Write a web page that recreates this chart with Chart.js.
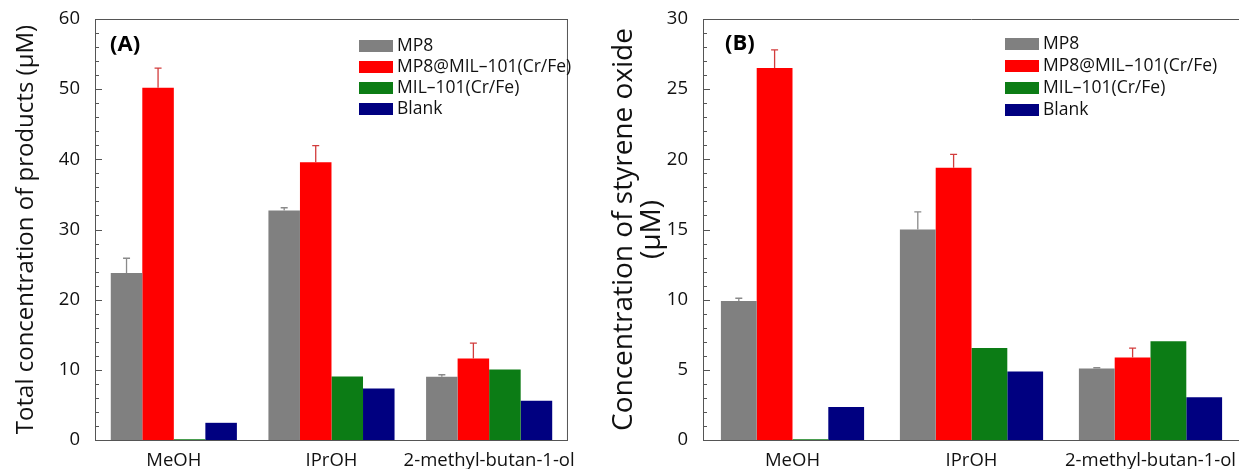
<!DOCTYPE html>
<html>
<head>
<meta charset="utf-8">
<script src="https://cdn.jsdelivr.net/npm/chart.js@4.4.0/dist/chart.umd.min.js"></script>
<style>
  html, body { margin: 0; padding: 0; background: #fff; overflow: hidden; width: 1239px; height: 469px; }
  .box { position: absolute; top: 0; height: 469px; }
</style>
</head>
<body>
<div class="box" style="left:0;width:578px"><canvas id="chartA"></canvas></div>
<div class="box" style="left:600px;width:645px"><canvas id="chartB"></canvas></div>
<script>
// categories and series names
var solvents = ["MeOH", "IPrOH", "2-methyl-butan-1-ol"];
var seriesNames = ["MP8", "MP8@MIL\u2013101(Cr/Fe)", "MIL\u2013101(Cr/Fe)", "Blank"];
var seriesColors = ["#808080", "#ff0000", "#0c7c15", "#000080"];
var errorColors = ["#8a8a8a", "#d23c3c", null, null];

// (A) total concentration of products (uM)
var totalMP8 = [23.8, 32.7, 9.0];
var totalMP8MIL = [50.2, 39.6, 11.6];
var totalMIL = [0.1, 9.05, 10.05];
var totalBlank = [2.45, 7.35, 5.6];
var totalErrMP8 = [2.1, 0.4, 0.3];
var totalErrMP8MIL = [2.8, 2.35, 2.2];

// (B) concentration of styrene oxide (uM)
var styMP8 = [9.9, 15.0, 5.1];
var styMP8MIL = [26.5, 19.4, 5.88];
var styMIL = [0.05, 6.55, 7.03];
var styBlank = [2.35, 4.88, 3.05];
var styErrMP8 = [0.2, 1.25, 0.05];
var styErrMP8MIL = [1.3, 0.95, 0.67];

var yTicksA = [0, 10, 20, 30, 40, 50, 60];
var yTicksB = [0, 5, 10, 15, 20, 25, 30];

var fontFam = "'Open Sans', 'Noto Sans', sans-serif";

function makeDatasets(values, errors) {
  return values.map(function(v, i) {
    return {
      label: seriesNames[i],
      data: v,
      errors: errors[i] || null,
      backgroundColor: seriesColors[i],
      borderWidth: 0,
      categoryPercentage: 0.8,
      barPercentage: 1.0
    };
  });
}

// error bars (upper half only), inner tick marks, frame and legend
var decorPlugin = {
  id: 'decor',
  afterDatasetsDraw: function(chart, args, opts) {
    var ctx = chart.ctx;
    var ys = chart.scales.y;
    var area = chart.chartArea;
    ctx.save();
    // error bars
    chart.data.datasets.forEach(function(ds, di) {
      if (!ds.errors) return;
      var meta = chart.getDatasetMeta(di);
      meta.data.forEach(function(bar, j) {
        var top = ys.getPixelForValue(ds.data[j] + ds.errors[j]);
        ctx.strokeStyle = errorColors[di];
        ctx.lineWidth = 1.3;
        ctx.beginPath();
        ctx.moveTo(bar.x, bar.y);
        ctx.lineTo(bar.x, top);
        ctx.moveTo(bar.x - 3.5, top);
        ctx.lineTo(bar.x + 3.5, top);
        ctx.stroke();
      });
    });
    // frame
    ctx.strokeStyle = '#555';
    ctx.lineWidth = 1;
    ctx.beginPath();
    ctx.moveTo(area.left, area.top + 0.5);
    ctx.lineTo(area.right, area.top + 0.5);
    ctx.moveTo(area.right - 0.5, area.top);
    ctx.lineTo(area.right - 0.5, area.bottom);
    ctx.stroke();
    // inner ticks on y axis
    var max = ys.max;
    for (var v = 0; v <= max + 1e-9; v += opts.minor) {
      var py = Math.round(ys.getPixelForValue(v)) + 0.5;
      var major = Math.abs(v / opts.major - Math.round(v / opts.major)) < 1e-6;
      ctx.beginPath();
      ctx.moveTo(area.left, py);
      ctx.lineTo(area.left + (major ? 7 : 4), py);
      ctx.stroke();
    }
    // legend
    ctx.font = opts.legendFont;
    ctx.textBaseline = 'middle';
    chart.data.datasets.forEach(function(ds, i) {
      var yy = opts.legendY + i * opts.legendGap;
      ctx.fillStyle = ds.backgroundColor;
      ctx.fillRect(opts.legendX, yy - 6, 34, 12);
      ctx.fillStyle = '#111';
      ctx.fillText(ds.label, opts.legendX + 38, yy);
    });
    // panel tag
    ctx.font = 'bold 22px ' + fontFam;
    ctx.fillStyle = '#000';
    ctx.fillText(opts.tag, opts.tagX, opts.tagY);
    ctx.restore();
  }
};

function makeChart(id, datasets, yMax, yTicks, title, titleSize, axisWidth, decor) {
  return new Chart(document.getElementById(id), {
    type: 'bar',
    data: { labels: solvents, datasets: datasets },
    options: {
      responsive: true,
      maintainAspectRatio: false,
      animation: false,
      layout: { padding: { top: 19, right: decor.padRight, left: 0, bottom: 0 } },
      plugins: {
        legend: { display: false },
        tooltip: { enabled: false },
        decor: decor
      },
      scales: {
        x: {
          offset: true,
          grid: { display: false },
          border: { display: true, color: '#555', width: 1 },
          ticks: { color: '#111', font: { family: fontFam, size: 18.5 }, padding: 2,
                   maxRotation: 0, minRotation: 0, autoSkip: false },
          afterFit: function(s) { s.height = 29; }
        },
        y: {
          min: 0,
          max: yMax,
          afterBuildTicks: function(s) { s.ticks = yTicks.map(function(v) { return { value: v }; }); },
          grid: { display: false },
          border: { display: true, color: '#555', width: 1 },
          ticks: { color: '#111', font: { family: fontFam, size: 18.5 }, padding: 7 },
          title: {
            display: true,
            text: title,
            color: '#111',
            font: { family: fontFam, size: titleSize, lineHeight: 1.0 },
            padding: { top: decor.titlePad, bottom: 0 }
          },
          afterFit: function(s) { s.width = axisWidth; }
        }
      }
    },
    plugins: [decorPlugin]
  });
}

makeChart('chartA',
  makeDatasets([totalMP8, totalMP8MIL, totalMIL, totalBlank], [totalErrMP8, totalErrMP8MIL]),
  60, yTicksA, 'Total concentration of products (\u03bcM)', 24, 95,
  { padRight: 8, major: 10, minor: 2, legendX: 359, legendY: 46, legendGap: 21,
    legendFont: '17.5px ' + fontFam, tag: '(A)', tagX: 110, tagY: 45, titlePad: 14 });

makeChart('chartB',
  makeDatasets([styMP8, styMP8MIL, styMIL, styBlank], [styErrMP8, styErrMP8MIL]),
  30, yTicksB, ['Concentration of styrene oxide', '(\u03bcM)'], 28, 103,
  { padRight: 5, major: 5, minor: 1, legendX: 405, legendY: 44, legendGap: 22,
    legendFont: '17.5px ' + fontFam, tag: '(B)', tagX: 125, tagY: 44, titlePad: 10 });
</script>
</body>
</html>
